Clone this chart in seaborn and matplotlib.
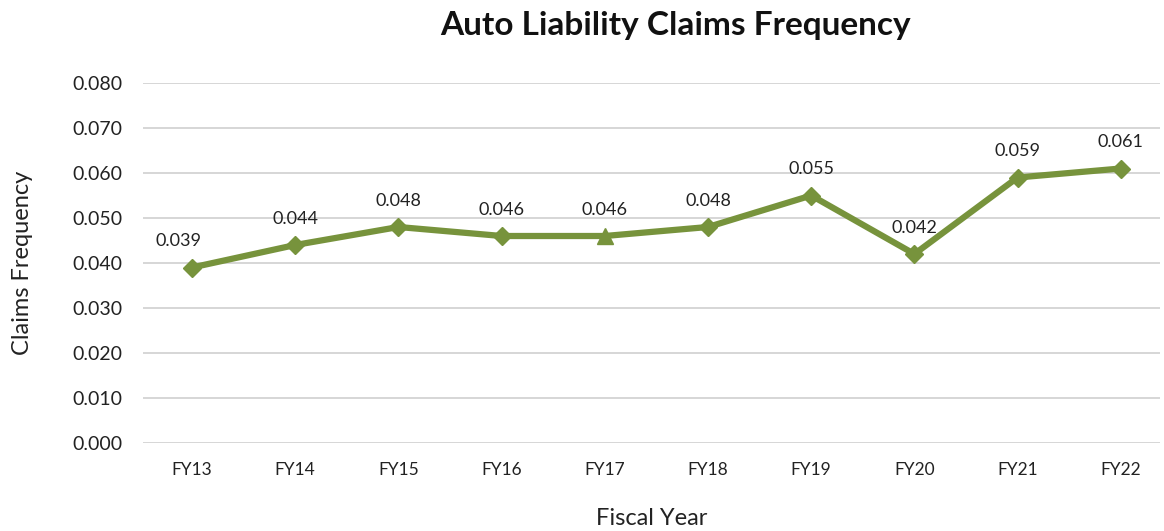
import matplotlib
matplotlib.use("Agg")
import matplotlib.pyplot as plt
import seaborn as sns
import pandas as pd

years = ["FY13", "FY14", "FY15", "FY16", "FY17", "FY18", "FY19", "FY20", "FY21", "FY22"]
freq = [0.039, 0.044, 0.048, 0.046, 0.046, 0.048, 0.055, 0.042, 0.059, 0.061]
labels = ["0.039", "0.044", "0.048", "0.046", "0.046", "0.048", "0.055", "0.042", "0.059", "0.061"]

sns.set_theme(style="white")
plt.rcParams['font.family'] = ['Lato', 'DejaVu Sans']

df = pd.DataFrame({"year": years, "freq": freq, "x": range(len(years))})

fig = plt.figure(figsize=(11.64, 5.31), dpi=100)
ax = fig.add_axes([143/1164, 1-443/531, (1160-143)/1164, (443-83)/531])

color = "#77933C"
sns.lineplot(data=df, x="x", y="freq", ax=ax, color=color, linewidth=4.5, zorder=3)
markers = ["D"] * len(years)
markers[4] = "^"
for i, (xv, yv) in enumerate(zip(df["x"], df["freq"])):
    ax.plot(xv, yv, marker=markers[i], color=color, markersize=9 if markers[i] == "D" else 11,
            linestyle="none", zorder=4)
    dx = -10 if i == 0 else 0
    ax.annotate(labels[i], (xv, yv), xytext=(dx, 13), textcoords="offset points",
                ha="center", va="bottom", fontsize=13, color="#222222")

ax.set_xlim(-0.475, 9.38)
ax.set_ylim(0, 0.080)
ax.set_yticks([i * 0.01 for i in range(9)])
ax.set_yticklabels([f"{i*0.01:.3f}" for i in range(9)], fontsize=14, color="#222222")
ax.set_xticks(range(len(years)))
ax.set_xticklabels(years, fontsize=12.5, color="#222222")
ax.tick_params(axis="y", pad=15, length=0)
ax.tick_params(axis="x", pad=14, length=0)
ax.grid(axis="y", color="#D0D0D0", linewidth=1.2)
ax.set_axisbelow(True)
for s in ax.spines.values():
    s.set_visible(False)

ax.set_xlabel("Fiscal Year", fontsize=17, labelpad=21, color="#222222")
ax.set_ylabel("Claims Frequency", fontsize=17, labelpad=28, color="#222222")
fig.text(676/1164, 1-25/531, "Auto Liability Claims Frequency", ha="center", va="center",
         fontsize=24, fontweight="bold", color="#111111")

fig.savefig("out.png", dpi=100)
